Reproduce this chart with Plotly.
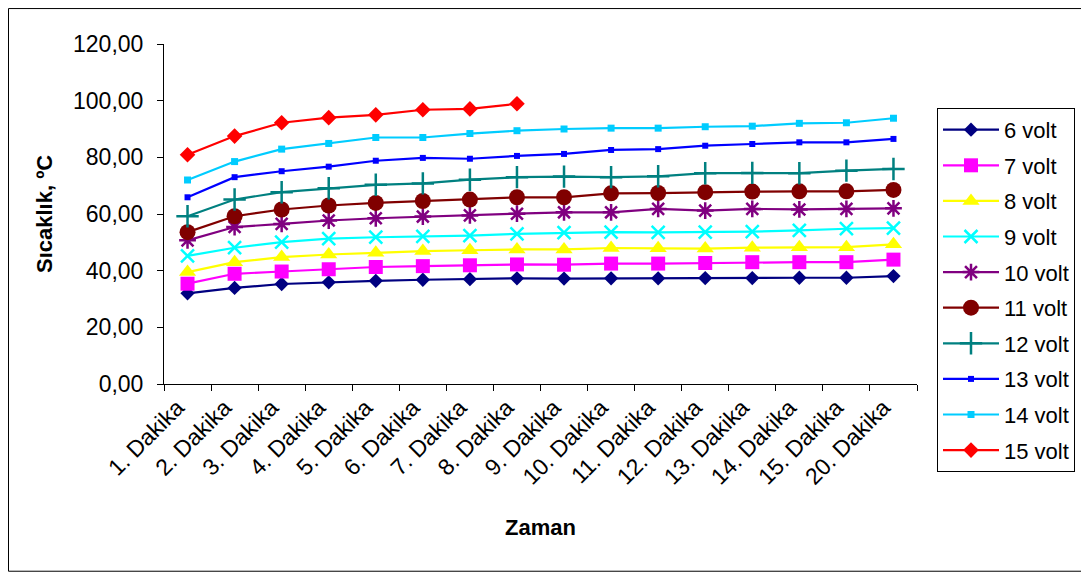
import plotly.graph_objects as go

categories = ["1. Dakika", "2. Dakika", "3. Dakika", "4. Dakika", "5. Dakika", "6. Dakika",
              "7. Dakika", "8. Dakika", "9. Dakika", "10. Dakika", "11. Dakika", "12. Dakika",
              "13. Dakika", "14. Dakika", "15. Dakika", "20. Dakika"]

v6 = [32.0, 33.9, 35.3, 35.9, 36.4, 36.8, 37.0, 37.3, 37.2, 37.3, 37.3, 37.4, 37.4, 37.5, 37.5, 38.1]
v7 = [35.4, 38.9, 39.7, 40.5, 41.3, 41.6, 41.9, 42.2, 42.1, 42.5, 42.5, 42.7, 43.0, 43.0, 43.0, 43.9]
v8 = [39.5, 43.0, 44.8, 45.7, 46.3, 46.9, 47.2, 47.5, 47.5, 48.0, 47.9, 47.8, 48.1, 48.3, 48.3, 49.3]
v9 = [45.2, 48.1, 50.1, 51.3, 51.8, 52.1, 52.4, 53.0, 53.4, 53.6, 53.5, 53.6, 53.8, 54.2, 54.8, 55.0]
v10 = [50.7, 55.4, 56.5, 57.7, 58.5, 59.1, 59.5, 60.1, 60.6, 60.6, 61.8, 61.2, 61.8, 61.6, 61.8, 62.0]
v11 = [53.6, 59.2, 61.6, 63.0, 63.9, 64.6, 65.1, 65.9, 65.9, 67.3, 67.4, 67.7, 67.9, 68.0, 68.0, 68.5]
v12 = [59.2, 65.1, 67.7, 69.1, 70.3, 70.8, 72.1, 73.0, 73.2, 73.0, 73.3, 74.4, 74.5, 74.4, 75.3, 75.9]
v13 = [65.9, 73.0, 75.1, 76.7, 78.8, 79.8, 79.5, 80.5, 81.2, 82.6, 82.9, 84.1, 84.7, 85.3, 85.3, 86.5]
v14 = [72.0, 78.5, 82.9, 84.9, 87.0, 87.0, 88.4, 89.4, 90.0, 90.3, 90.3, 90.8, 91.0, 92.0, 92.2, 93.8]
v15 = [80.9, 87.5, 92.2, 94.0, 95.0, 96.8, 97.1, 98.9]

series_names = ["6 volt", "7 volt", "8 volt", "9 volt", "10 volt", "11 volt",
                "12 volt", "13 volt", "14 volt", "15 volt"]
series_values = [v6, v7, v8, v9, v10, v11, v12, v13, v14, v15]

colors = ["#000080", "#FF00FF", "#FFFF00", "#00FFFF", "#800080", "#800000",
          "#008080", "#0000FF", "#00CCFF", "#FF0000"]
symbols = ["diamond", "square", "triangle-up", "x-thin-open", "asterisk-open", "circle",
           "cross-thin-open", "square", "square", "diamond"]
sizes = [11, 14, 15, 13, 14, 16, 16, 6, 7, 12]

fig = go.Figure()
for i, (name, vals) in enumerate(zip(series_names, series_values)):
    thin = symbols[i].endswith("-open")
    fig.add_trace(go.Scatter(
        x=categories[:len(vals)], y=vals, name=name, mode="lines+markers",
        line=dict(color=colors[i], width=2.2),
        marker=dict(symbol=symbols[i], size=sizes[i], color=colors[i],
                    line=dict(color=colors[i], width=2.5 if thin else 0)),
        legendgroup=name,
    ))

# page has an 8px body margin: figure coordinates = screen coordinates - 8
OFF = 8
W, H = 1081, 566
L, R, T, B = 164 - OFF, 917 - OFF, 44 - OFF, 384.5 - OFF
pw, ph = R - L, B - T

def px(x):
    return (x - L) / pw

def py(y):
    return (B - y) / ph

fig.update_layout(
    width=W, height=H,
    margin=dict(l=L, r=W - R, t=T, b=H - B),
    paper_bgcolor="white", plot_bgcolor="white",
    separators=",.",
    font=dict(family="Liberation Sans, Arial, sans-serif", color="black", size=22),
    showlegend=True,
    legend=dict(
        x=px(937 - OFF), y=py(108 - OFF), xanchor="left", yanchor="top",
        bordercolor="black", borderwidth=1, bgcolor="white",
        font=dict(size=22), tracegroupgap=4, itemwidth=56, maxheight=420,
    ),
    xaxis=dict(
        type="category", categoryorder="array", categoryarray=categories,
        range=[-0.5, len(categories) - 0.5],
        showline=True, linecolor="black", linewidth=1,
        ticks="outside", ticklen=6, tickcolor="black", tickson="boundaries",
        tickangle=-45, tickfont=dict(size=23), ticklabelshift=-10,
        showgrid=False, zeroline=False,
        title=dict(text="<b>Zaman</b>", font=dict(size=22), standoff=30),
    ),
    yaxis=dict(
        range=[0, 120], dtick=20, tick0=0, tickformat=".2f",
        showline=True, linecolor="black", linewidth=1,
        ticks="outside", ticklen=6, tickcolor="black", ticklabelstandoff=9,
        showgrid=False, zeroline=False, tickfont=dict(size=23),
        title=dict(text="<b>Sıcaklık, ºC</b>", font=dict(size=22), standoff=14),
    ),
    shapes=[dict(type="rect", xref="paper", yref="paper",
                 x0=px(0.5), x1=px(W + 20), y0=py(572 - OFF), y1=py(0.5),
                 line=dict(color="black", width=1), fillcolor="rgba(0,0,0,0)",
                 layer="below")],
)

fig.write_html("out.html")
